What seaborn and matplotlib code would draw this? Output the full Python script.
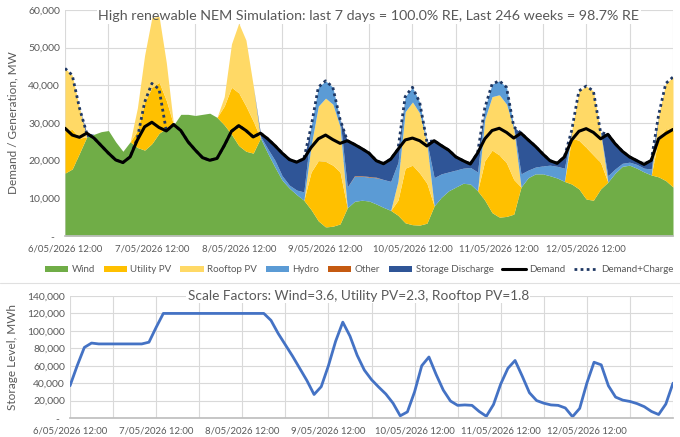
import numpy as np
import matplotlib
matplotlib.use("Agg")
import matplotlib.pyplot as plt
from matplotlib.patches import Patch
from matplotlib.lines import Line2D
import seaborn as sns

# 2-hourly steps from 6/05/2026 12:00 (hours since start), one row per day
hours = np.arange(0, 170, 2)

wind = [
    16700, 17800, 22000, 26300, 27000, 27700, 28000, 25000, 22500, 25000, 23500, 22800,
    24500, 27300, 28600, 29500, 32300, 32300, 32000, 32300, 32600, 31500, 29500, 27000,
    24000, 22500, 22000, 26000, 22000, 18300, 14800, 12700, 11000, 9500, 7000, 4000,
    2400, 2600, 3200, 7500, 9200, 9500, 9300, 8500, 7600, 6800, 5500, 3500,
    3000, 2900, 3400, 8000, 10300, 12000, 13000, 14000, 13800, 12000, 9500, 6200,
    5000, 5200, 5800, 13000, 15500, 16500, 16500, 16000, 15400, 14500, 13800, 12500,
    9800, 9500, 12500, 14300, 16700, 18500, 18800, 18000, 17000, 16200, 15700, 14700,
    13000,
]
utility_pv = [
    11300, 10500, 4000, 0, 0, 0, 0, 0, 0, 0, 4500, 12700,
    15000, 13500, 7400, 0, 0, 0, 0, 0, 0, 0, 5000, 12500,
    14000, 12000, 8500, 0, 0, 0, 0, 0, 0, 0, 10000, 16000,
    17400, 16200, 13800, 0, 0, 0, 0, 0, 0, 0, 4000, 14500,
    15800, 13800, 10600, 0, 0, 0, 0, 0, 0, 0, 10500, 16600,
    16500, 14200, 9200, 0, 0, 0, 0, 0, 0, 0, 12200, 12900,
    13700, 12000, 7000, 0, 0, 0, 0, 0, 0, 0, 10300, 13800,
    15000,
]
rooftop_pv = [
    16500, 14400, 8000, 0, 0, 0, 0, 0, 0, 0, 6000, 12500,
    18500, 17500, 10000, 0, 0, 0, 0, 0, 0, 0, 2500, 11500,
    18500, 17500, 9500, 0, 0, 0, 0, 0, 0, 0, 7000, 14500,
    16800, 16200, 12000, 0, 0, 0, 0, 0, 0, 0, 5000, 15000,
    16800, 15900, 10500, 0, 0, 0, 0, 0, 0, 0, 11000, 14200,
    16000, 15600, 13500, 0, 0, 0, 0, 0, 0, 0, 2000, 13100,
    16300, 17000, 8000, 0, 0, 0, 0, 0, 0, 0, 6000, 12000,
    14200,
]
hydro = [
    0, 0, 0, 0, 0, 0, 0, 0, 0, 0, 0, 0,
    0, 0, 0, 0, 0, 0, 0, 0, 0, 0, 0, 0,
    0, 0, 0, 500, 1200, 1800, 1200, 800, 1200, 2200, 5000, 5000,
    4600, 4500, 2000, 5500, 6650, 6350, 6350, 6950, 7400, 7700, 5000, 4000,
    3900, 2900, 500, 7500, 6200, 5000, 4500, 4000, 4400, 5000, 3000, 3300,
    3700, 4500, 500, 3500, 2000, 1800, 2100, 2800, 3100, 3500, 0, 0,
    0, 0, 0, 1700, 1100, 800, 800, 1000, 1000, 1600, 0, 0,
    0,
]
other = [
    0, 0, 0, 0, 0, 0, 0, 0, 0, 0, 0, 0,
    0, 0, 0, 0, 0, 0, 0, 0, 0, 0, 0, 0,
    0, 0, 0, 0, 0, 0, 0, 0, 0, 0, 0, 0,
    0, 0, 0, 0, 150, 150, 150, 150, 0, 0, 0, 0,
    0, 0, 0, 0, 0, 0, 0, 0, 0, 0, 0, 0,
    0, 0, 0, 0, 0, 0, 0, 0, 0, 0, 0, 0,
    0, 0, 0, 0, 0, 0, 0, 0, 0, 0, 0, 0,
    0,
]
storage_discharge = [
    0, 0, 0, 1000, 0, 0, 0, 0, 0, 0, 0, 0,
    0, 0, 0, 0, 0, 0, 0, 0, 0, 0, 0, 0,
    0, 0, 0, 800, 2600, 3900, 6000, 6800, 7400, 8800, 0, 0,
    0, 0, 0, 12300, 8300, 7200, 6200, 4400, 4200, 5900, 3500, 0,
    0, 0, 0, 9800, 7500, 5800, 3500, 2000, 900, 5000, 0, 0,
    0, 0, 0, 10800, 8000, 5500, 3200, 1200, 800, 3000, 0, 0,
    0, 0, 0, 11000, 6700, 3200, 1400, 1000, 1000, 2300, 0, 0,
    0,
]
demand = [
    28600, 26800, 26200, 27300, 26000, 24000, 22000, 20200, 19500, 21000, 25500, 29000,
    30200, 28800, 27900, 29600, 28000, 25000, 22800, 20800, 20100, 20600, 24000, 27800,
    29300, 28000, 26300, 27300, 25800, 24000, 22000, 20300, 19600, 20500, 23500, 25800,
    26800, 25600, 24600, 25300, 24300, 23200, 22000, 20000, 19200, 20400, 23000, 25500,
    26000, 25300, 23900, 25300, 24000, 22800, 21000, 20000, 19100, 22000, 25800, 28000,
    28600, 27500, 26000, 27300, 25500, 23800, 21800, 20000, 19300, 21000, 25500, 27800,
    28500, 27500, 25800, 27000, 24500, 22500, 21000, 20000, 19000, 20100, 25800, 27200,
    28300,
]
demand_charge = [
    44500, 42700, 34000, 27300, 26000, 24000, 22000, 20200, 19500, 21000, 26000, 35500,
    40500, 39000, 27900, 29600, 28000, 25000, 22800, 20800, 20100, 20600, 24000, 27800,
    29300, 28000, 26300, 27300, 25800, 24000, 22000, 20300, 19600, 20500, 29000, 39500,
    41200, 39500, 31000, 25300, 24300, 23200, 22000, 20000, 19200, 20400, 23000, 37000,
    39500, 35500, 25000, 25300, 24000, 22800, 21000, 20000, 19100, 22000, 34000, 40300,
    41200, 39500, 29000, 27300, 25500, 23800, 21800, 20000, 19300, 21000, 28000, 38500,
    39800, 38500, 27500, 27000, 24500, 22500, 21000, 20000, 19000, 20100, 32000, 40500,
    42200,
]
storage_level = [
    37000, 60000, 81000, 86000, 85000, 85000, 85000, 85000, 85000, 85000, 85000, 87000,
    104000, 120000, 120000, 120000, 120000, 120000, 120000, 120000, 120000, 120000, 120000, 120000,
    120000, 120000, 120000, 120000, 112000, 97000, 84000, 71000, 57000, 43000, 27000, 36000,
    60000, 88000, 110000, 94000, 72000, 55000, 44000, 35500, 27500, 17000, 2500, 7000,
    30000, 60000, 70000, 50000, 32000, 19500, 14500, 15000, 14500, 7500, 2000, 15500,
    39000, 57000, 66000, 48000, 29000, 20000, 17000, 15000, 14500, 11500, 1500, 11000,
    40000, 64000, 61000, 37000, 24000, 20500, 19000, 16500, 13000, 7500, 4000, 16000,
    40000,
]

day_labels = ["6/05/2026 12:00", "7/05/2026 12:00", "8/05/2026 12:00", "9/05/2026 12:00",
              "10/05/2026 12:00", "11/05/2026 12:00", "12/05/2026 12:00", ""]
series_names = ["Wind", "Utility PV", "Rooftop PV", "Hydro", "Other", "Storage Discharge"]
series_colors = ["#70AD47", "#FFC000", "#FFD966", "#5B9BD5", "#C55A11", "#2F5597"]

sns.set_theme(style="white")
plt.rcParams["font.family"] = ["Lato", "DejaVu Sans"]
GREY = "#595959"
GRID = "#D9D9D9"


def style_axis(ax, ymax, ystep):
    ax.set_xlim(0, 168)
    ax.set_ylim(0, ymax)
    ax.set_xticks(np.arange(0, 169, 24))
    ax.set_xticklabels(day_labels)
    ax.set_xticks(np.arange(12, 169, 24), minor=True)
    yt = np.arange(0, ymax + 1, ystep)
    ax.set_yticks(yt)
    ax.set_yticklabels(["-  " if v == 0 else f"{v:,}" for v in yt])
    ax.grid(which="both", axis="x", color=GRID, lw=0.8)
    ax.grid(which="major", axis="y", color=GRID, lw=0.8)
    ax.set_axisbelow(True)
    ax.tick_params(which="both", length=0, labelsize=7.5, labelcolor=GREY)
    ax.tick_params(axis="x", labelsize=6.9, pad=6)
    for s in ax.spines.values():
        s.set_visible(False)
    ax.spines["bottom"].set_visible(True)
    ax.spines["bottom"].set_color("#BFBFBF")


fig = plt.figure(figsize=(6.8, 4.37), dpi=100)
ax1 = fig.add_axes([65 / 680, 1 - 236 / 437, 608 / 680, 226 / 437])
ax2 = fig.add_axes([70 / 680, 1 - 418 / 437, 603 / 680, 122 / 437])

# top chart: generation stack plus demand lines
ax1.stackplot(hours, wind, utility_pv, rooftop_pv, hydro, other, storage_discharge,
              colors=series_colors, lw=0, zorder=2)
sns.lineplot(x=hours, y=demand_charge, ax=ax1, color="#1F3864", lw=2.0,
             linestyle=(0, (1, 1.2)), legend=False, zorder=3)
sns.lineplot(x=hours, y=demand, ax=ax1, color="black", lw=2.2, legend=False, zorder=4)
style_axis(ax1, 60000, 10000)
ax1.set_ylabel("Demand / Generation, MW", color=GREY, fontsize=8.5, labelpad=7)

title1 = "High renewable NEM Simulation: last 7 days = 100.0% RE, Last 246 weeks = 98.7% RE"
ax1.text(0.5, 0.972, title1, transform=ax1.transAxes, ha="center", va="center",
         fontsize=10.3, color="white", zorder=1,
         bbox=dict(facecolor="white", edgecolor="none", pad=1))
ax1.text(0.5, 0.972, title1, transform=ax1.transAxes, ha="center", va="center",
         fontsize=10.3, color=GREY, zorder=6)

# bottom chart: storage level
sns.lineplot(x=hours, y=storage_level, ax=ax2, color="#4472C4", lw=2.0, legend=False)
style_axis(ax2, 140000, 20000)
ax2.set_ylabel("Storage Level, MWh", color=GREY, fontsize=8.5, labelpad=7)
ax2.text(0.478, 1.0, "Scale Factors: Wind=3.6, Utility PV=2.3, Rooftop PV=1.8",
         transform=ax2.transAxes, ha="center", va="center", fontsize=9.8, color=GREY,
         bbox=dict(facecolor="white", edgecolor="none", pad=1), zorder=5)

handles = [Patch(facecolor=c, edgecolor="none", label=n) for n, c in zip(series_names, series_colors)]
handles.append(Line2D([], [], color="black", lw=2.2, label="Demand"))
handles.append(Line2D([], [], color="#1F3864", lw=2.0, linestyle=(0, (1, 1.2)), label="Demand+Charge"))
fig.legend(handles=handles, loc="center", bbox_to_anchor=(0.528, 1 - 270 / 437), ncol=8,
           frameon=False, fontsize=7, labelcolor=GREY, handlelength=2.4, handleheight=0.55,
           handletextpad=0.35, columnspacing=0.9)

fig.add_artist(Line2D([0.0, 1.0], [1 - 283 / 437, 1 - 283 / 437], color="#E0E0E0", lw=0.8))

fig.savefig("out.png", dpi=100)
